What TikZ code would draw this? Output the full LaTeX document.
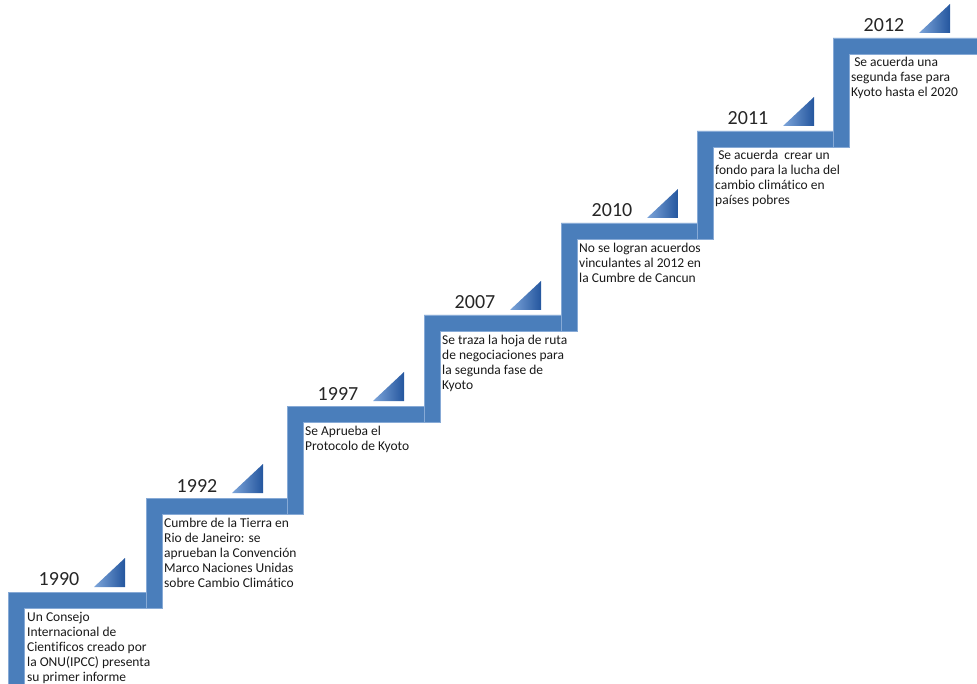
\documentclass[tikz,border=0pt]{standalone}
\usepackage{fontspec}
\setmainfont{Carlito}[Ligatures=NoCommon]
\definecolor{stepblue}{RGB}{74,126,187}
\definecolor{stepedge}{RGB}{135,170,214}
\definecolor{wedgelight}{RGB}{125,165,218}
\definecolor{wedgedark}{RGB}{36,86,158}
\tikzset{
  stepbar/.style={fill=stepblue, draw=stepedge, line width=0.9pt, line join=miter},
  wedge/.style={left color=wedgelight, right color=wedgedark},
  yearlabel/.style={font=\fontsize{20}{22}\selectfont, text=black!85, inner sep=0pt},
  note/.style={font=\fontsize{13.5}{14.9}\selectfont, align=left, anchor=north west,
               inner sep=0pt, text=black!90},
}
\begin{document}
\begin{tikzpicture}[x=1pt,y=-1pt]
\useasboundingbox (0,0) rectangle (977,684);
% each step: riser left x / tread top y / tread right end / riser bottom
\foreach \x/\t/\r/\b in {8/592/162/690, 146/498/303/608, 287/406/440/514,
    424/315/577/422, 561/223/713/331, 697/131/849/239, 833/38/980/147}{
  \filldraw[stepbar] (\x,\b) -- (\x,\t) -- (\r,\t) -- (\r,\t+16)
      -- (\x+16,\t+16) -- (\x+16,\b) -- cycle;
  \shade[wedge] (\x+86,\t-5) -- (\x+117,\t-5) -- (\x+117,\t-34) -- cycle;
}
% years above the treads
\node[yearlabel] (y1990) at (59,579) {1990};
\node[yearlabel] (y1992) at (197,486) {1992};
\node[yearlabel] (y1997) at (338,394) {1997};
\node[yearlabel] (y2007) at (475,302) {2007};
\node[yearlabel] (y2010) at (612,210) {2010};
\node[yearlabel] (y2011) at (748,118) {2011};
\node[yearlabel] (y2012) at (884,25) {2012};
% descriptions under the treads
\node[note] (n1990) at (27,612) {Un Consejo\\Internacional de\\Cientificos creado por\\la ONU(IPCC) presenta\\su primer informe};
\node[note] (n1992) at (164,518) {Cumbre de la Tierra en\\Rio de Janeiro: se\\aprueban la Convención\\Marco Naciones Unidas\\sobre Cambio Climático};
\node[note] (n1997) at (305,426) {Se Aprueba el\\Protocolo de Kyoto};
\node[note] (n2007) at (442,335) {Se traza la hoja de ruta\\de negociaciones para\\la segunda fase de\\Kyoto};
\node[note] (n2010) at (579,243) {No se logran acuerdos\\vinculantes al 2012 en\\la Cumbre de Cancun};
\node[note] (n2011) at (715,150) {\ Se acuerda\ \ crear un\\fondo para la lucha del\\cambio climático en\\países pobres};
\node[note] (n2012) at (851,57) {\ Se acuerda una\\segunda fase para\\Kyoto hasta el 2020};
\end{tikzpicture}
\end{document}
